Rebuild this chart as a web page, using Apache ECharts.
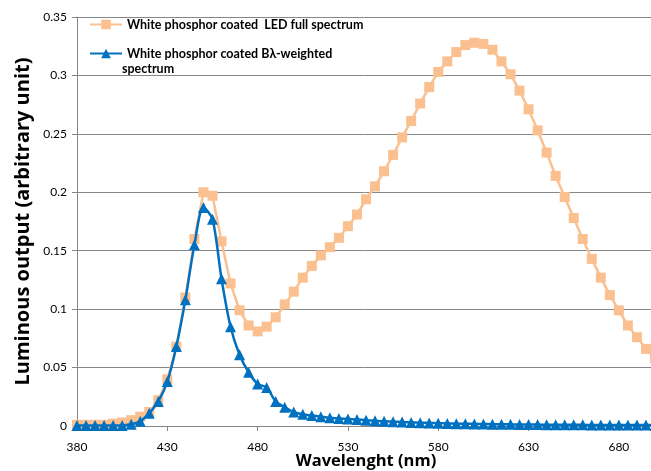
<!DOCTYPE html>
<html>
<head>
<meta charset="utf-8">
<script src="https://cdn.jsdelivr.net/npm/echarts@6/dist/echarts.min.js"></script>
<style>
  html, body { margin: 0; padding: 0; background: #fff; }
  #chart { width: 651px; height: 471px; }
</style>
</head>
<body>
<div id="chart"></div>
<script>
// wavelength categories (nm)
const wavelengths = [
  380, 385, 390, 395, 400, 405, 410, 415, 420, 425,
  430, 435, 440, 445, 450, 455, 460, 465, 470, 475,
  480, 485, 490, 495, 500, 505, 510, 515, 520, 525,
  530, 535, 540, 545, 550, 555, 560, 565, 570, 575,
  580, 585, 590, 595, 600, 605, 610, 615, 620, 625,
  630, 635, 640, 645, 650, 655, 660, 665, 670, 675,
  680, 685, 690, 695, 700
];

// white phosphor coated LED full spectrum
const fullSpectrum = [
  0.001, 0.001, 0.001, 0.001, 0.002, 0.003, 0.005, 0.008, 0.012, 0.022,
  0.040, 0.068, 0.110, 0.160, 0.200, 0.197, 0.158, 0.122, 0.099, 0.086,
  0.081, 0.085, 0.093, 0.104, 0.115, 0.127, 0.137, 0.146, 0.153, 0.161,
  0.171, 0.181, 0.194, 0.205, 0.218, 0.232, 0.247, 0.261, 0.276, 0.290,
  0.303, 0.312, 0.320, 0.326, 0.328, 0.327, 0.322, 0.312, 0.301, 0.287,
  0.271, 0.253, 0.234, 0.214, 0.196, 0.178, 0.160, 0.143, 0.127, 0.112,
  0.099, 0.086, 0.076, 0.066, 0.058
];

// B(lambda)-weighted spectrum
const weightedSpectrum = [
  0.0005, 0.0005, 0.0005, 0.0005, 0.0005, 0.0005, 0.0015, 0.004, 0.011, 0.021,
  0.038, 0.068, 0.108, 0.155, 0.187, 0.177, 0.126, 0.085, 0.061, 0.046,
  0.036, 0.033, 0.021, 0.016, 0.012, 0.010, 0.009, 0.008, 0.007, 0.0065,
  0.006, 0.0055, 0.005, 0.0045, 0.004, 0.0037, 0.0034, 0.0031, 0.0028, 0.0026,
  0.0024, 0.0022, 0.002, 0.0019, 0.0018, 0.0017, 0.0016, 0.0015, 0.0014, 0.0013,
  0.0012, 0.0012, 0.0011, 0.0011, 0.001, 0.001, 0.001, 0.0009, 0.0009, 0.0009,
  0.0008, 0.0008, 0.0008, 0.0008, 0.0007
];

const seriesNames = [
  "White phosphor coated  LED full spectrum",
  "White phosphor coated B\u03bb-weighted"
];

const font = "Lato, 'Open Sans', sans-serif";
const titleFont = "'Open Sans', Lato, sans-serif";
let myChart = echarts.init(document.getElementById("chart"));

let option = {
  animation: false,
  grid: {
    left: 77,
    right: -4,
    top: 17,
    bottom: 45,
    outerBoundsMode: "none",
  },
  legend: {
    orient: "vertical",
    left: 84,
    top: 13,
    itemGap: 16,
    itemWidth: 32,
    itemHeight: 12,
    data: seriesNames,
    textStyle: {
      fontFamily: font,
      fontWeight: "bold",
      fontSize: 12.5,
      color: "#000",
    },
  },
  graphic: [
    {
      type: "text",
      left: 122,
      top: 62,
      style: {
        text: "spectrum",
        fontFamily: font,
        fontWeight: "bold",
        fontSize: 12.5,
        fill: "#000",
      },
    },
  ],
  xAxis: {
    type: "category",
    boundaryGap: false,
    data: wavelengths,
    name: "Wavelenght (nm)",
    nameLocation: "middle",
    nameGap: 27,
    nameMoveOverlap: false,
    nameTextStyle: {
      fontFamily: titleFont,
      fontWeight: "bold",
      fontSize: 16.5,
      color: "#000",
    },
    axisLine: { lineStyle: { color: "#868686" } },
    axisTick: { interval: 9, length: 5, lineStyle: { color: "#868686" } },
    axisLabel: {
      interval: 9,
      fontFamily: font,
      fontSize: 12,
      color: "#000",
      margin: 15,
    },
  },
  yAxis: {
    type: "value",
    min: 0,
    max: 0.35,
    interval: 0.05,
    name: "Luminous output (arbitrary unit)",
    nameLocation: "middle",
    nameGap: 44,
    nameMoveOverlap: false,
    nameTextStyle: {
      fontFamily: titleFont,
      fontWeight: "bold",
      fontSize: 20,
      color: "#000",
    },
    axisLine: { show: true, lineStyle: { color: "#868686" } },
    axisTick: { show: true, length: 5, lineStyle: { color: "#868686" } },
    axisLabel: {
      fontFamily: font,
      fontSize: 12,
      color: "#000",
      margin: 10,
    },
    splitLine: { lineStyle: { color: "#868686", width: 1 } },
  },
  series: [
    {
      name: seriesNames[0],
      type: "line",
      data: fullSpectrum,
      symbol: "rect",
      symbolSize: 10,
      showAllSymbol: true,
      lineStyle: { color: "#FAC090", width: 2.5 },
      itemStyle: { color: "#FAC090" },
      z: 2,
    },
    {
      name: seriesNames[1],
      type: "line",
      smooth: 0.3,
      data: weightedSpectrum,
      symbol: "triangle",
      symbolSize: 11,
      showAllSymbol: true,
      lineStyle: { color: "#0070C0", width: 2.5 },
      itemStyle: { color: "#0070C0" },
      z: 3,
    },
  ],
};
myChart.setOption(option);
</script>
</body>
</html>
